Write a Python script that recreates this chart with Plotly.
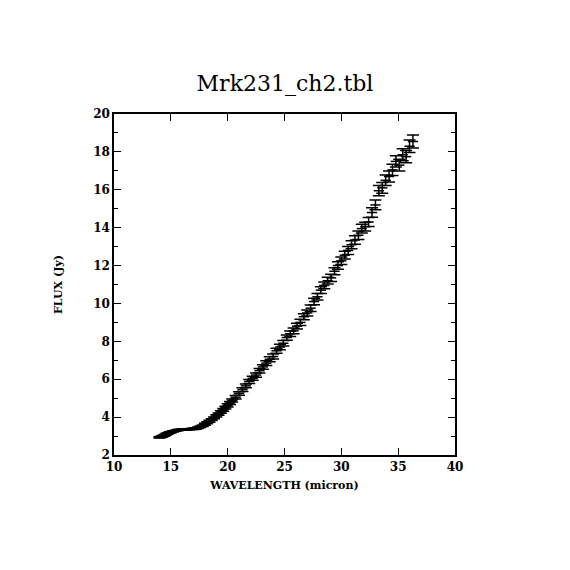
import plotly.graph_objects as go

# wavelength (micron), flux (Jy), flux error (Jy)
wavelength = [
    14.0, 14.1, 14.2, 14.3, 14.4, 14.5, 14.6, 14.7, 14.8, 14.9,
    15.0, 15.2, 15.4, 15.6, 15.8, 16.0, 16.2, 16.4, 16.6, 16.8,
    17.0, 17.2, 17.4, 17.6, 17.8, 18.0, 18.2, 18.4, 18.6, 18.8,
    19.0, 19.2, 19.4, 19.6, 19.8, 20.0, 20.2, 20.4, 20.7, 21.0,
    21.3, 21.6, 21.9, 22.2, 22.5, 22.8, 23.1, 23.4, 23.7, 24.0,
    24.3, 24.6, 24.9, 25.2, 25.5, 25.8, 26.1, 26.4, 26.7, 27.0,
    27.3, 27.6, 27.9, 28.2, 28.5, 28.8, 29.1, 29.4, 29.7, 30.0,
    30.3, 30.6, 30.9, 31.2, 31.5, 31.8, 32.1, 32.4, 32.7, 33.0,
    33.3, 33.6, 33.9, 34.2, 34.5, 34.8, 35.1, 35.4, 35.7, 36.0,
    36.3,
]
flux = [
    2.93, 2.95, 2.97, 3.00, 3.02, 3.06, 3.10, 3.13, 3.16, 3.19,
    3.21, 3.25, 3.28, 3.31, 3.33, 3.34, 3.35, 3.35, 3.36, 3.37,
    3.38, 3.40, 3.44, 3.49, 3.55, 3.62, 3.70, 3.78, 3.87, 3.96,
    4.06, 4.16, 4.27, 4.38, 4.50, 4.62, 4.75, 4.88, 5.05, 5.25,
    5.45, 5.65, 5.88, 6.05, 6.22, 6.45, 6.65, 6.85, 7.05, 7.20,
    7.50, 7.70, 7.90, 8.20, 8.40, 8.55, 8.80, 9.00, 9.30, 9.50,
    9.75, 10.10, 10.35, 10.70, 10.95, 11.20, 11.35, 11.70, 12.00, 12.25,
    12.55, 12.80, 13.10, 13.35, 13.60, 13.95, 14.05, 14.30, 14.80, 15.20,
    15.95, 16.10, 16.50, 16.70, 17.05, 17.50, 17.30, 17.85, 17.75, 18.30,
    18.55,
]
flux_err = [
    0.03, 0.03, 0.03, 0.03, 0.03, 0.03, 0.03, 0.03, 0.03, 0.03,
    0.03, 0.03, 0.03, 0.03, 0.03, 0.03, 0.03, 0.03, 0.03, 0.03,
    0.04, 0.04, 0.04, 0.04, 0.04, 0.05, 0.05, 0.05, 0.05, 0.05,
    0.06, 0.06, 0.06, 0.07, 0.07, 0.08, 0.08, 0.08, 0.09, 0.09,
    0.10, 0.10, 0.10, 0.11, 0.11, 0.12, 0.12, 0.12, 0.13, 0.13,
    0.13, 0.14, 0.14, 0.14, 0.15, 0.15, 0.15, 0.16, 0.16, 0.16,
    0.17, 0.17, 0.17, 0.18, 0.18, 0.18, 0.19, 0.19, 0.20, 0.20,
    0.20, 0.21, 0.21, 0.22, 0.22, 0.23, 0.23, 0.24, 0.25, 0.26,
    0.27, 0.28, 0.28, 0.29, 0.30, 0.30, 0.31, 0.32, 0.32, 0.33,
    0.34,
]
bin_halfwidth = 0.45

serif = "DejaVu Serif, Liberation Serif, serif"

fig = go.Figure()
fig.add_trace(go.Scatter(
    x=wavelength, y=flux, mode="markers",
    marker=dict(size=2, color="black"),
    error_x=dict(type="constant", value=bin_halfwidth, color="black",
                 thickness=1.5, width=0),
    error_y=dict(type="data", array=flux_err, color="black",
                 thickness=1.5, width=6),
    showlegend=False,
))

axis_common = dict(
    showline=True, linecolor="black", linewidth=1.5, mirror="allticks",
    ticks="inside", ticklen=7, tickwidth=1.2, tickcolor="black",
    showgrid=False, zeroline=False,
    tickfont=dict(family=serif, size=12, color="black"),
)

# the page body has an 8px margin, so the figure is shifted by 8px
fig.update_layout(
    width=562, height=562,
    margin=dict(l=106, r=115, t=106, b=115),
    paper_bgcolor="white", plot_bgcolor="white",
    title=dict(text="Mrk231_ch2.tbl", x=(285 - 8) / 562, xanchor="center",
               y=1 - 75 / 562, yanchor="middle",
               font=dict(family=serif, size=22, color="black")),
    xaxis=dict(range=[10, 40], dtick=5, tick0=10,
               title=dict(text="<b>WAVELENGTH (micron)</b>", standoff=8,
                          font=dict(family=serif, size=11, color="black")),
               **axis_common),
    yaxis=dict(range=[2, 20], dtick=2, tick0=2,
               minor=dict(dtick=1, ticks="inside", ticklen=4,
                          tickcolor="black", showgrid=False),
               title=dict(text="<b>FLUX (Jy)</b>", standoff=28,
                          font=dict(family=serif, size=11, color="black")),
               **axis_common),
)
fig.update_xaxes(tickprefix="<b>", ticksuffix="</b>")
fig.update_yaxes(tickprefix="<b>", ticksuffix="</b>")

fig.write_html("out.html")
